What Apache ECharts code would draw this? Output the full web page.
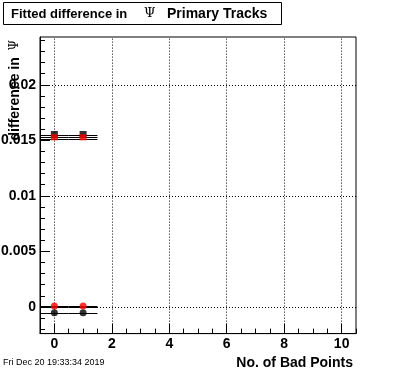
<!DOCTYPE html>
<html><head><meta charset="utf-8">
<script src="https://cdn.jsdelivr.net/npm/echarts@6/dist/echarts.min.js"></script>
<style>html,body{margin:0;padding:0;background:#fff}#c{width:396px;height:372px}</style>
</head><body><div id="c"></div>
<script>
// ---- data ----
const xPositions = [0, 1];
const xErrors = [0.5, 0.5];
const blackSquares = [0.01557, 0.01557];
const redSquares = [0.01527, 0.01527];
const redCircles = [0.00009, 0.00009];
const blackCircles = [-0.00053, -0.00053];
const barLevels = [0.01546, 0.01528, 0.01510, 0.00010, 0.00000, -0.00053];
// ---- ticks ----
const xMajorTicks = [0, 2, 4, 6, 8, 10];
const xMinorTicks = [-0.5, 0, 0.5, 1, 1.5, 2, 2.5, 3, 3.5, 4, 4.5, 5, 5.5, 6, 6.5, 7, 7.5, 8, 8.5, 9, 9.5, 10, 10.5];
const yMajorTicks = [0, 0.005, 0.01, 0.015, 0.02];
const yMinorTicks = [-0.002, -0.001, 0, 0.001, 0.002, 0.003, 0.004, 0.005, 0.006, 0.007, 0.008, 0.009, 0.01, 0.011, 0.012, 0.013, 0.014, 0.015, 0.016, 0.017, 0.018, 0.019, 0.02, 0.021, 0.022, 0.023, 0.024];
// ---- texts ----
const titleParts = ['Fitted difference in', 'Ψ', 'Primary Tracks'];
const yTitle = ['difference in', 'Ψ'];
const xTitle = 'No. of Bad Points';
const dateText = 'Fri Dec 20 19:33:34 2019';

const FONT = 'Liberation Sans, Arial, Helvetica, sans-serif';
const chart = echarts.init(document.getElementById('c'), null, {renderer: 'canvas'});

const barData = [];
barLevels.forEach(function (lv) {
  xPositions.forEach(function (x, i) { barData.push([x, lv, xErrors[i]]); });
});
function pts(ys) { return xPositions.map(function (x, i) { return [x, ys[i]]; }); }

const xBase = {type: 'value', min: -0.5, max: 10.5, position: 'bottom', gridIndex: 0,
  splitLine: {show: false}, axisPointer: {show: false}};
const yBase = {type: 'value', min: -0.0024, max: 0.0243, position: 'left', gridIndex: 0,
  splitLine: {show: false}, axisPointer: {show: false}};

const option = {
  backgroundColor: '#fff',
  animation: false,
  grid: {left: 40, top: 37, width: 316, height: 296.6, show: true, borderColor: '#000', borderWidth: 1,
    containLabel: false, outerBoundsMode: 'none'},
  xAxis: [
    Object.assign({}, xBase, {
      axisLine: {show: true, onZero: false, lineStyle: {color: '#000', width: 1}},
      axisTick: {show: true, inside: true, length: 5, customValues: xMinorTicks, lineStyle: {color: '#000'}},
      axisLabel: {show: false}
    }),
    Object.assign({}, xBase, {
      axisLine: {show: false, onZero: false},
      axisTick: {show: true, inside: true, length: 10, customValues: xMajorTicks, lineStyle: {color: '#000'}},
      axisLabel: {show: true, customValues: xMajorTicks, color: '#000', fontFamily: FONT, fontWeight: 'bold',
        fontSize: 14, margin: 4, formatter: function (v) { return String(v); }}
    })
  ],
  yAxis: [
    Object.assign({}, yBase, {
      axisLine: {show: true, onZero: false, lineStyle: {color: '#000', width: 1}},
      axisTick: {show: true, inside: true, length: 5, customValues: yMinorTicks, lineStyle: {color: '#000'}},
      axisLabel: {show: false}
    }),
    Object.assign({}, yBase, {
      axisLine: {show: false, onZero: false},
      axisTick: {show: true, inside: true, length: 10, customValues: yMajorTicks, lineStyle: {color: '#000'}},
      axisLabel: {show: true, customValues: yMajorTicks, color: '#000', fontFamily: FONT, fontWeight: 'bold',
        fontSize: 14, margin: 4, formatter: function (v) { return String(+v.toFixed(4)); }}
    })
  ],
  series: [
    {
      type: 'line', data: [], xAxisIndex: 0, yAxisIndex: 0, z: 1, silent: true,
      markLine: {
        silent: true, symbol: ['none', 'none'], label: {show: false}, animation: false,
        lineStyle: {color: '#000', width: 1, type: [1, 2]},
        emphasis: {disabled: true},
        data: xMajorTicks.map(function (v) { return {xAxis: v}; })
          .concat(yMajorTicks.map(function (v) { return {yAxis: v}; }))
      }
    },
    {
      type: 'custom', xAxisIndex: 0, yAxisIndex: 0, z: 3, silent: true, data: barData,
      renderItem: function (params, api) {
        const x = api.value(0), y = api.value(1), e = api.value(2);
        const p1 = api.coord([x - e, y]), p2 = api.coord([x + e, y]);
        return {type: 'line', shape: {x1: p1[0], y1: Math.round(p1[1]) + 0.5, x2: p2[0], y2: Math.round(p2[1]) + 0.5},
          style: {stroke: '#000', lineWidth: 1}};
      }
    },
    {type: 'scatter', xAxisIndex: 0, yAxisIndex: 0, z: 4, data: pts(blackSquares), symbol: 'rect', symbolSize: [7, 6],
      itemStyle: {color: '#000'}, silent: true},
    {type: 'scatter', xAxisIndex: 0, yAxisIndex: 0, z: 5, data: pts(redSquares), symbol: 'rect', symbolSize: [7, 6],
      itemStyle: {color: '#ff0000'}, silent: true},
    {type: 'scatter', xAxisIndex: 0, yAxisIndex: 0, z: 4, data: pts(blackCircles), symbol: 'circle', symbolSize: 7,
      itemStyle: {color: '#000'}, silent: true},
    {type: 'scatter', xAxisIndex: 0, yAxisIndex: 0, z: 5, data: pts(redCircles), symbol: 'circle', symbolSize: 7,
      itemStyle: {color: '#ff0000'}, silent: true}
  ],
  graphic: [
    {type: 'rect', shape: {x: 3.5, y: 2.5, width: 278, height: 22}, style: {fill: '#fff', stroke: '#000', lineWidth: 1}, z: 10},
    {type: 'text', x: 11, y: 14, z: 11, style: {text: titleParts[0], font: 'bold 13px ' + FONT, fill: '#000', verticalAlign: 'middle'}},
    {type: 'text', x: 144, y: 14, z: 11, style: {text: titleParts[1], font: '13px DejaVu Serif, serif', fill: '#000', verticalAlign: 'middle'}},
    {type: 'text', x: 167, y: 14, z: 11, style: {text: titleParts[2], font: 'bold 14px ' + FONT, fill: '#000', verticalAlign: 'middle'}},
    {type: 'text', x: 15, y: 40, rotation: Math.PI / 2, z: 11, style: {
      text: '{b|' + yTitle[0] + '}  {p|' + yTitle[1] + '}', align: 'right', verticalAlign: 'middle',
      rich: {b: {font: 'bold 14px ' + FONT, fill: '#000'}, p: {font: '12px DejaVu Serif, serif', fill: '#000'}}}},
    {type: 'text', x: 353, y: 363, z: 11, style: {text: xTitle, font: 'bold 14px ' + FONT, fill: '#000', align: 'right', verticalAlign: 'middle'}},
    {type: 'text', x: 3, y: 363, z: 11, style: {text: dateText, font: '9px ' + FONT, fill: '#000', verticalAlign: 'middle'}}
  ]
};
chart.setOption(option);
</script></body></html>
